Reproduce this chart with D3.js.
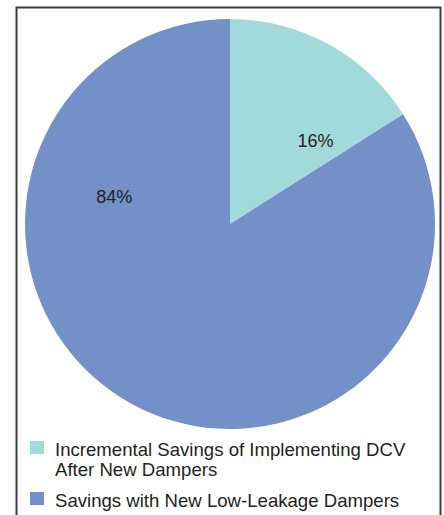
<!DOCTYPE html>
<html>
<head>
<meta charset="utf-8">
<script src="https://cdn.jsdelivr.net/npm/d3@7"></script>
<style>
  html, body { margin: 0; padding: 0; background: #fff; }
  svg { display: block; }
  text { font-family: "Liberation Sans", Arial, Helvetica, sans-serif; fill: #231f20; }
</style>
</head>
<body>
<svg id="chart" width="444" height="515"></svg>
<script>
const categories = [
  ["Incremental Savings of Implementing DCV", "After New Dampers"],
  ["Savings with New Low-Leakage Dampers"]
];
const values = [16, 84];
const valueLabels = ["16%", "84%"];
const colors = ["#a2d9da", "#7490c8"];

const svg = d3.select("#chart");

// frame
svg.append("rect")
  .attr("x", 16.5).attr("y", 7.5)
  .attr("width", 424).attr("height", 520)
  .attr("fill", "#fff")
  .attr("stroke", "#3a3a3a")
  .attr("stroke-width", 2);

const cx = 230, cy = 224, R = 205;
const data = values.map((v, i) => ({ v, i }));
const pie = d3.pie().value(d => d.v).sort(null);
const arcs = pie(data);
const arc = d3.arc().innerRadius(0).outerRadius(R);

const g = svg.append("g").attr("transform", `translate(${cx},${cy})`);
g.selectAll("path.slice")
  .data(arcs)
  .enter().append("path")
  .attr("class", "slice")
  .attr("d", arc)
  .attr("fill", d => colors[d.data.i]);

// data labels: placed at ~0.58R, shifted toward the top of the pie
const labelR = R * 0.58;
const labelAngle = d => {
  const mid = (d.startAngle + d.endAngle) / 2;
  return d.data.i === 0 ? mid + 0.30 : mid + 1.30;
};
g.selectAll("text.lbl")
  .data(arcs)
  .enter().append("text")
  .attr("class", "lbl")
  .attr("x", d => labelR * Math.sin(labelAngle(d)))
  .attr("y", d => -labelR * Math.cos(labelAngle(d)))
  .attr("text-anchor", "middle")
  .attr("dominant-baseline", "central")
  .attr("font-size", 18)
  .text((d) => valueLabels[d.data.i]);

// legend
const leg = svg.append("g").attr("transform", "translate(30,441)");
const rowY = [0, 51];
categories.forEach((lines, i) => {
  const row = leg.append("g").attr("transform", `translate(0,${rowY[i]})`);
  row.append("rect")
    .attr("x", 0).attr("y", 0)
    .attr("width", 14).attr("height", 13)
    .attr("fill", colors[i]);
  const t = row.append("text")
    .attr("x", 25).attr("y", 14.5)
    .attr("font-size", 18.6);
  lines.forEach((ln, j) => {
    t.append("tspan").attr("x", 25).attr("dy", j === 0 ? 0 : 20).text(ln);
  });
});
</script>
</body>
</html>
